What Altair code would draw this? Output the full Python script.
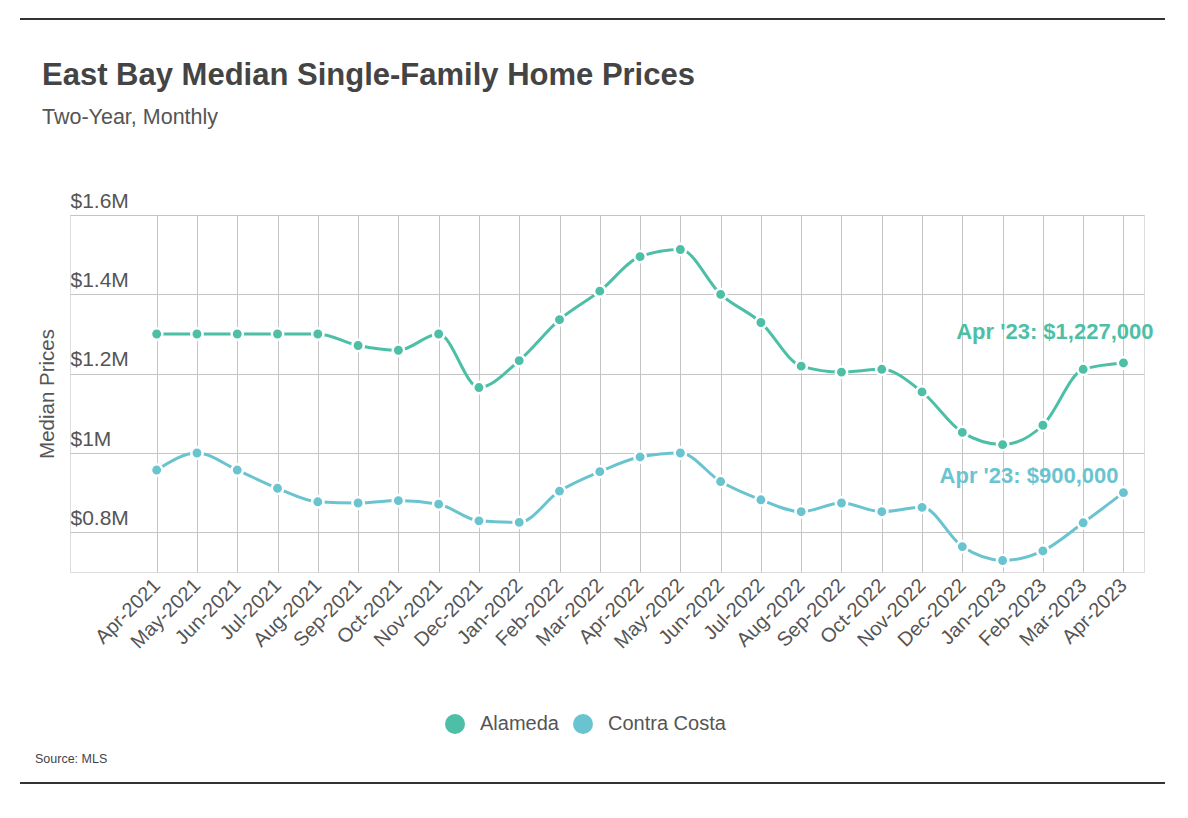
import altair as alt
import pandas as pd

months = ["Apr-2021", "May-2021", "Jun-2021", "Jul-2021", "Aug-2021", "Sep-2021",
          "Oct-2021", "Nov-2021", "Dec-2021", "Jan-2022", "Feb-2022", "Mar-2022",
          "Apr-2022", "May-2022", "Jun-2022", "Jul-2022", "Aug-2022", "Sep-2022",
          "Oct-2022", "Nov-2022", "Dec-2022", "Jan-2023", "Feb-2023", "Mar-2023",
          "Apr-2023"]
alameda = [1300000, 1300000, 1300000, 1300000, 1300000, 1271000, 1259000, 1300000,
           1165000, 1233000, 1336000, 1408000, 1495000, 1513000, 1400000, 1329000,
           1219000, 1204000, 1211000, 1154000, 1052000, 1021000, 1070000, 1211000,
           1227000]
contra_costa = [957000, 1000000, 957000, 911000, 877000, 874000, 880000, 871000,
                829000, 825000, 904000, 953000, 990000, 1000000, 928000, 882000,
                852000, 874000, 852000, 863000, 764000, 729000, 753000, 824000,
                900000]
series_names = ["Alameda", "Contra Costa"]
series_colors = ["#4CBFA6", "#6AC4CF"]
y_ticks = [800000, 1000000, 1200000, 1400000, 1600000]

TITLE = "East Bay Median Single-Family Home Prices"
SUBTITLE = "Two-Year, Monthly"
SOURCE = "Source: MLS"
FONT = "Liberation Sans, Arial, sans-serif"

rows = []
for i, m in enumerate(months):
    rows.append({"idx": i, "month": m, "series": series_names[0], "price": alameda[i]})
    rows.append({"idx": i, "month": m, "series": series_names[1], "price": contra_costa[i]})
df = pd.DataFrame(rows)

label_expr = "[" + ",".join("'" + m + "'" for m in months) + "][datum.value]"

x_enc = alt.X("idx:Q",
              scale=alt.Scale(domain=[-2.152, 24.51], nice=False, zero=False),
              axis=alt.Axis(values=list(range(len(months))), labelExpr=label_expr,
                            title=None, labelAngle=-45, labelAlign="right",
                            labelBaseline="middle", labelPadding=10, labelOverlap=False,
                            labelFontSize=20, labelColor="#555555", labelFont=FONT,
                            ticks=False, domain=False, grid=True,
                            gridColor="#c4c4c4", gridWidth=1))
y_enc = alt.Y("price:Q",
              scale=alt.Scale(domain=[700000, 1600000], nice=False, zero=False),
              axis=alt.Axis(values=y_ticks,
                            labelExpr="datum.value == 1000000 ? '$1M' : '$' + format(datum.value / 1000000, '.1f') + 'M'",
                            title="Median Prices", titleFont=FONT, titleFontSize=20.5,
                            titleFontWeight="normal", titleColor="#555555",
                            titleX=-17, titleBaseline="alphabetic",
                            labelAlign="left", labelPadding=0, labelBaseline="alphabetic",
                            labelOffset=-8, labelFontSize=21, labelColor="#555555",
                            labelFont=FONT, ticks=False, tickSize=0, domain=False,
                            grid=True, gridColor="#c4c4c4", gridWidth=1))
color_enc = alt.Color("series:N",
                      scale=alt.Scale(domain=series_names, range=series_colors),
                      legend=alt.Legend(title=None, orient="none", legendX=375, legendY=499,
                                        direction="horizontal", symbolType="circle",
                                        symbolSize=400, symbolStrokeWidth=0,
                                        symbolOpacity=1, labelFontSize=20,
                                        labelColor="#555555", labelFont=FONT,
                                        labelOffset=15, columnPadding=14, padding=0))

base = alt.Chart(df)
lines = base.mark_line(interpolate="monotone", strokeWidth=3).encode(
    x=x_enc, y=y_enc, color=color_enc)
points = base.mark_circle(size=130, opacity=1, stroke="white", strokeWidth=2.5).encode(
    x="idx:Q", y="price:Q", color=alt.Color("series:N"))

last = len(months) - 1
ann_a = pd.DataFrame({"idx": [last], "price": [alameda[-1]],
                      "label": [f"Apr '23: ${alameda[-1]:,}"]})
ann_c = pd.DataFrame({"idx": [last], "price": [contra_costa[-1]],
                      "label": [f"Apr '23: ${contra_costa[-1]:,}"]})
text_a = alt.Chart(ann_a).mark_text(align="right", baseline="alphabetic", dx=30, dy=-24,
                                    fontSize=22, fontWeight="bold", font=FONT,
                                    color=series_colors[0]).encode(
    x="idx:Q", y="price:Q", text="label:N")
text_c = alt.Chart(ann_c).mark_text(align="right", baseline="alphabetic", dx=-5, dy=-10,
                                    fontSize=22, fontWeight="bold", font=FONT,
                                    color=series_colors[1]).encode(
    x="idx:Q", y="price:Q", text="label:N")

title_t = alt.Chart(pd.DataFrame({"t": [TITLE]})).mark_text(
    align="left", baseline="alphabetic", fontSize=31, fontWeight="bold", font=FONT,
    color="#444444").encode(text="t:N", x=alt.value(-28), y=alt.value(-130))
sub_t = alt.Chart(pd.DataFrame({"t": [SUBTITLE]})).mark_text(
    align="left", baseline="alphabetic", fontSize=21.5, font=FONT,
    color="#555555").encode(text="t:N", x=alt.value(-28), y=alt.value(-91))
src_t = alt.Chart(pd.DataFrame({"t": [SOURCE]})).mark_text(
    align="left", baseline="alphabetic", fontSize=12.5, font=FONT,
    color="#444444").encode(text="t:N", x=alt.value(-35), y=alt.value(548))

rule_top = alt.Chart(pd.DataFrame({"r": [0]})).mark_rule(color="#333333", strokeWidth=2).encode(
    x=alt.value(-50), x2=alt.value(1095), y=alt.value(-196))
rule_bot = alt.Chart(pd.DataFrame({"r": [0]})).mark_rule(color="#333333", strokeWidth=2).encode(
    x=alt.value(-50), x2=alt.value(1095), y=alt.value(568))

chart = alt.layer(lines, points, text_a, text_c, title_t, sub_t, src_t, rule_top, rule_bot).properties(
    width=1074, height=357,
    autosize=alt.AutoSizeParams(type="none"),
    padding={"left": 62, "top": 207, "right": 36, "bottom": 238},
).configure_view(stroke=None).configure(background="white")

chart.save("out.html", embed_options={"renderer": "svg", "actions": False})
